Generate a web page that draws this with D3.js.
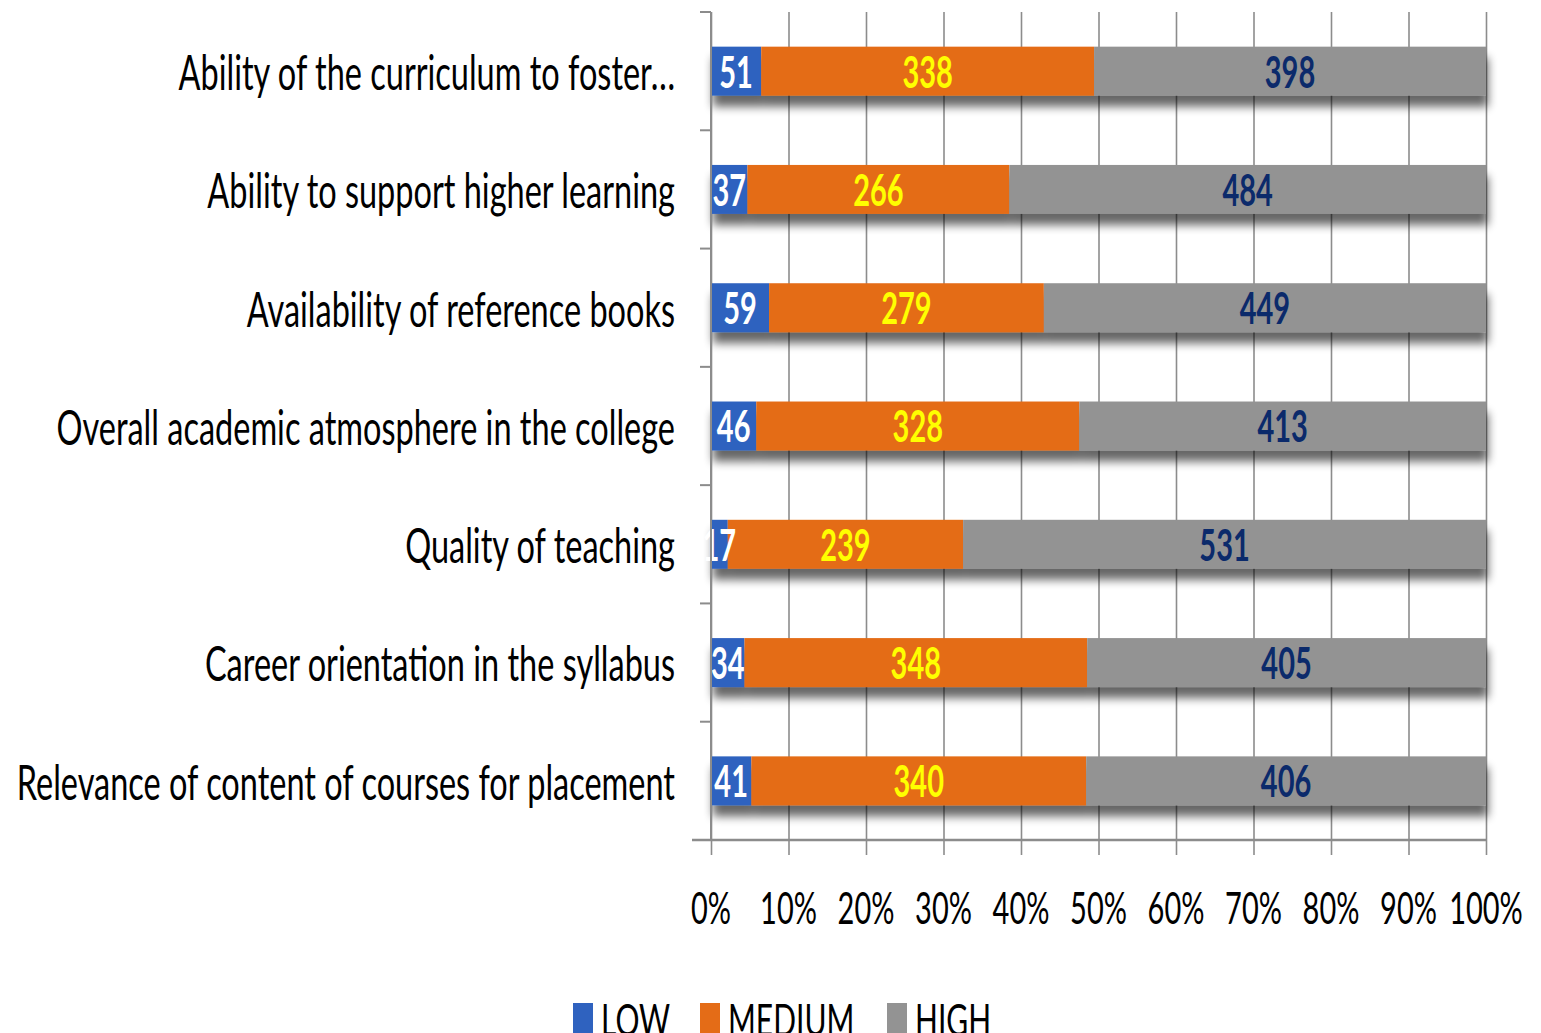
<!DOCTYPE html>
<html>
<head>
<meta charset="utf-8">
<script src="https://cdn.jsdelivr.net/npm/d3@7"></script>
<style>
  body { margin: 0; background: #fff; }
  text { font-family: Lato, "Open Sans", sans-serif; }
</style>
</head>
<body>
<div id="chart"></div>
<script>
const categories = [
    "Ability of the curriculum to foster…",
    "Ability to support higher learning",
    "Availability of reference books",
    "Overall academic atmosphere in the college",
    "Quality of teaching",
    "Career orientation in the syllabus",
    "Relevance of content of courses for placement"
];
const lowValues = [51, 37, 59, 46, 17, 34, 41];
const mediumValues = [338, 266, 279, 328, 239, 348, 340];
const highValues = [398, 484, 449, 413, 531, 405, 406];
const seriesNames = ["LOW", "MEDIUM", "HIGH"];
const xTicks = [0, 0.1, 0.2, 0.3, 0.4, 0.5, 0.6, 0.7, 0.8, 0.9, 1];

const width = 1541, height = 1033;
const margin = { top: 12, right: 55, bottom: 193, left: 711 };
const plotWidth = width - margin.left - margin.right;
const plotHeight = height - margin.top - margin.bottom;
const stretch = 1.5; // text in the source is tall and narrow

const colors = { LOW: "#2f62bf", MEDIUM: "#e46c17", HIGH: "#939393" };
const labelColors = { LOW: "#ffffff", MEDIUM: "#ffff00", HIGH: "#0b2a6b" };

const rows = categories.map((c, i) => {
    const total = lowValues[i] + mediumValues[i] + highValues[i];
    return { name: c, LOW: lowValues[i], MEDIUM: mediumValues[i], HIGH: highValues[i], total: total };
});

const stack = d3.stack()
    .keys(seriesNames)
    .value((d, key) => d[key] / d.total);
const series = stack(rows);

const svg = d3.select("#chart")
    .append("svg")
    .attr("width", width)
    .attr("height", height);

const defs = svg.append("defs");
const shadow = defs.append("filter")
    .attr("id", "shadow")
    .attr("x", "-5%").attr("y", "-20%")
    .attr("width", "110%").attr("height", "180%");
shadow.append("feGaussianBlur").attr("in", "SourceAlpha").attr("stdDeviation", 5);
shadow.append("feOffset").attr("dx", 2).attr("dy", 11).attr("result", "blur");
shadow.append("feComponentTransfer").append("feFuncA").attr("type", "linear").attr("slope", 0.6);
const merge = shadow.append("feMerge");
merge.append("feMergeNode");
merge.append("feMergeNode").attr("in", "SourceGraphic");

const g = svg.append("g")
    .attr("transform", `translate(${margin.left},${margin.top})`);

const x = d3.scaleLinear().domain([0, 1]).range([0, plotWidth]);
const y = d3.scaleBand().domain(categories).range([0, plotHeight]).padding(0);
const barH = y.bandwidth() * 0.414;

// vertical gridlines + tick marks below the axis
const grid = g.append("g")
    .attr("transform", `translate(0,${plotHeight + 15})`)
    .call(d3.axisBottom(x).tickValues(xTicks).tickSize(-(plotHeight + 15)).tickFormat(""));
grid.select(".domain").remove();
grid.selectAll("line").attr("stroke", "#8c8c8c").attr("stroke-width", 1.6);

// bars, one shadowed group per row
const barRows = g.append("g");
rows.forEach((r, i) => {
    const rowG = barRows.append("g").attr("filter", "url(#shadow)");
    series.forEach(s => {
        const d = s[i];
        rowG.append("rect")
            .attr("x", x(d[0]))
            .attr("y", y(r.name) + (y.bandwidth() - barH) / 2)
            .attr("width", x(d[1]) - x(d[0]))
            .attr("height", barH)
            .attr("fill", colors[s.key]);
    });
});

// value labels
series.forEach(s => {
    g.append("g").selectAll("g")
        .data(s)
        .join("g")
        .attr("transform", d => `translate(${x((d[0] + d[1]) / 2)},${y(d.data.name) + y.bandwidth() / 2}) scale(1,${stretch})`)
        .append("text")
        .attr("text-anchor", "middle")
        .attr("dominant-baseline", "central")
        .attr("font-size", 29)
        .attr("font-weight", "bold")
        .attr("fill", labelColors[s.key])
        .text(d => d.data[s.key]);
});

// x axis baseline
g.append("line")
    .attr("x1", -19).attr("x2", plotWidth)
    .attr("y1", plotHeight).attr("y2", plotHeight)
    .attr("stroke", "#8c8c8c").attr("stroke-width", 2.5);

// category axis
const yAxis = g.append("g");
yAxis.append("line")
    .attr("x1", 0).attr("x2", 0)
    .attr("y1", 0).attr("y2", plotHeight)
    .attr("stroke", "#8c8c8c").attr("stroke-width", 2);
yAxis.selectAll(".tick")
    .data(categories.map(c => y(c)).concat([plotHeight]))
    .join("line")
    .attr("x1", -11).attr("x2", 0)
    .attr("y1", d => d).attr("y2", d => d)
    .attr("stroke", "#8c8c8c").attr("stroke-width", 2);

yAxis.selectAll(".cat")
    .data(categories)
    .join("g")
    .attr("transform", d => `translate(-36,${y(d) + y.bandwidth() / 2}) scale(1,${stretch})`)
    .append("text")
    .attr("text-anchor", "end")
    .attr("dominant-baseline", "central")
    .attr("font-size", 32.5)
    .attr("fill", "#000")
    .text(d => d);

// x tick labels
g.append("g").selectAll("g")
    .data(xTicks)
    .join("g")
    .attr("transform", d => `translate(${x(d)},${plotHeight + 68}) scale(1,${stretch})`)
    .append("text")
    .attr("text-anchor", "middle")
    .attr("dominant-baseline", "central")
    .attr("font-size", 29)
    .attr("fill", "#000")
    .text(d3.format(".0%"));

// legend
const legendX = [573, 700, 887];
const legend = svg.append("g");
seriesNames.forEach((name, i) => {
    legend.append("rect")
        .attr("x", legendX[i]).attr("y", 1003)
        .attr("width", 20).attr("height", 30)
        .attr("fill", colors[name]);
    legend.append("g")
        .attr("transform", `translate(${legendX[i] + 28},1018) scale(1,${stretch})`)
        .append("text")
        .attr("dominant-baseline", "central")
        .attr("font-size", 30)
        .attr("fill", "#000")
        .text(name);
});
</script>
</body>
</html>
